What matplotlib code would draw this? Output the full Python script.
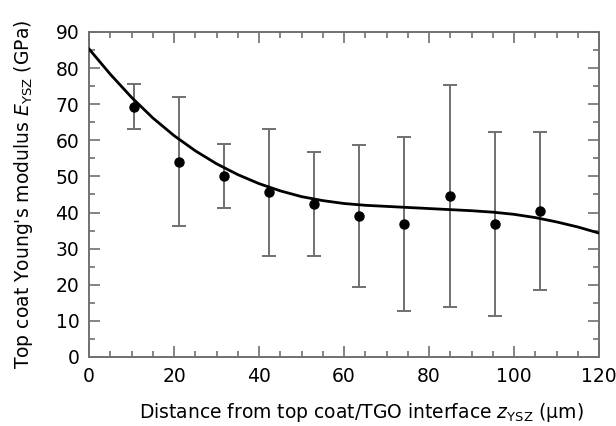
import matplotlib
matplotlib.use("Agg")
import matplotlib.pyplot as plt
from matplotlib.ticker import MultipleLocator

# Measured points with error bars
z_points = [10.6, 21.2, 31.7, 42.4, 53.0, 63.5, 74.1, 84.9, 95.4, 106.0]
E_points = [69.3, 54.1, 50.1, 45.6, 42.4, 39.1, 36.8, 44.6, 36.8, 40.4]
E_upper = [75.7, 71.9, 59.0, 63.2, 56.8, 58.8, 60.9, 75.3, 62.2, 62.2]
E_lower = [63.0, 36.4, 41.3, 27.9, 28.1, 19.3, 12.8, 13.9, 11.3, 18.6]

# Fitted trend curve
z_curve = [0, 5, 10, 15, 20, 25, 30, 35, 40, 45, 50, 55, 60,
           65, 70, 75, 80, 85, 90, 95, 100, 105, 110, 115, 120]
E_curve = [85.3, 78.3, 71.9, 66.2, 61.3, 57.1, 53.5, 50.5, 48.0, 46.0, 44.4, 43.3, 42.5,
           42.0, 41.7, 41.4, 41.1, 40.8, 40.5, 40.1, 39.5, 38.6, 37.4, 36.0, 34.3]

x_ticks = [0, 20, 40, 60, 80, 100, 120]
y_ticks = [0, 10, 20, 30, 40, 50, 60, 70, 80, 90]

plt.rcParams['font.family'] = ['DejaVu Sans']
plt.rcParams['mathtext.fontset'] = 'dejavusans'

fig = plt.figure(figsize=(6.16, 4.26), dpi=100)
ax = fig.add_axes([0.1445, 0.162, 0.828, 0.763])

yerr = [[e - l for e, l in zip(E_points, E_lower)],
        [u - e for e, u in zip(E_points, E_upper)]]
ax.errorbar(z_points, E_points, yerr=yerr, fmt='o', color='black',
            ecolor='#707070', elinewidth=1.4, capsize=5, capthick=1.4,
            markersize=6.5, zorder=3)
ax.plot(z_curve, E_curve, color='black', linewidth=2.0, zorder=4,
        solid_joinstyle='round')

ax.set_xlim(0, 120)
ax.set_ylim(0, 90)
ax.set_xticks(x_ticks)
ax.set_yticks(y_ticks)
ax.xaxis.set_minor_locator(MultipleLocator(5))
ax.yaxis.set_minor_locator(MultipleLocator(5))
ax.tick_params(which='both', direction='in', top=True, right=True,
               color='#707070', width=1.2, labelsize=13.5, pad=7)
ax.tick_params(which='major', length=8)
ax.tick_params(which='minor', length=4.5)
for s in ax.spines.values():
    s.set_color('#707070')
    s.set_linewidth(1.4)

ax.set_xlabel(r'Distance from top coat/TGO interface $z_{\mathrm{YSZ}}$ ($\mathrm{\mu}$m)',
              fontsize=13.5, labelpad=11)
ax.xaxis.label.set_x(0.534)
ax.set_ylabel(r"Top coat Young's modulus $E_{\mathrm{YSZ}}$ (GPa)", fontsize=13.5, labelpad=15)

fig.savefig('out.png', dpi=100)
